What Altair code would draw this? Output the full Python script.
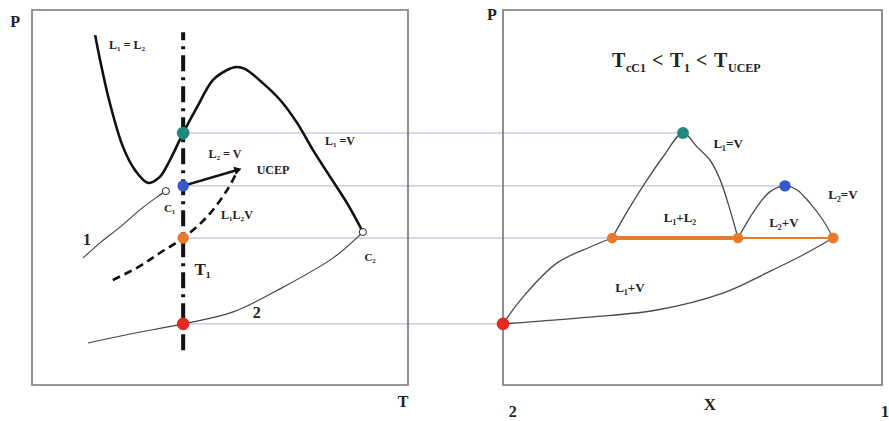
import altair as alt
import pandas as pd

# ---------------- left panel: P-T projection (T and P in 0-100 box units)
T1 = 40.2
P_TEAL, P_BLUE, P_ORANGE, P_RED = 67.2, 53.1, 39.2, 16.3

ll_T = [16.8, 18.1, 20.7, 24.2, 27.4, 30.9, 34.0, 36.7, 40.2, 43.9, 48.1,
        51.9, 54.3, 56.6, 61.4, 66.0, 70.5, 74.7, 79.3, 83.8, 88.0]
ll_P = [93.3, 86.7, 75.2, 63.5, 57.3, 53.9, 55.5, 60.0, 67.2, 74.1, 81.3,
        84.0, 84.8, 84.3, 80.5, 76.0, 69.9, 62.7, 55.5, 48.5, 40.8]

curve1_T = [13.6, 18.1, 23.4, 28.7, 33.2, 35.6]
curve1_P = [33.9, 37.9, 42.1, 46.7, 50.1, 51.7]

curve2_T = [14.9, 26.1, 40.2, 53.5, 66.8, 80.1, 87.2, 88.0]
curve2_P = [11.2, 13.6, 16.3, 19.5, 26.1, 33.9, 40.0, 40.8]

llv_T = [21.5, 28.7, 34.0, 40.2, 46.5, 51.9, 54.8]
llv_P = [28.0, 31.7, 35.2, 39.2, 44.8, 52.0, 57.4]

l2v_T = [40.2, 54.8]
l2v_P = [53.1, 57.4]

C1 = (35.6, 51.7)
C2 = (88.0, 40.8)
UCEP = (54.8, 57.4)
iso_P = [9.3, 94.1]

# ---------------- right panel: P-X section at T1 (X from 0 = pure 2 to 1 = pure 1)
dome1_X = [0.288, 0.335, 0.380, 0.422, 0.475, 0.512, 0.546, 0.573, 0.599, 0.620]
dome1_P = [39.2, 47.5, 54.7, 60.8, 67.2, 63.5, 60.0, 54.7, 46.7, 39.2]
dome2_X = [0.620, 0.670, 0.704, 0.744, 0.776, 0.810, 0.844, 0.871]
dome2_P = [39.2, 47.5, 51.5, 53.1, 52.0, 48.5, 44.0, 39.2]
bubble_X = [0.0, 0.053, 0.142, 0.230, 0.288]
bubble_P = [16.3, 23.5, 32.5, 36.8, 39.2]
dew_X = [0.0, 0.230, 0.406, 0.580, 0.712, 0.790, 0.871]
dew_P = [16.3, 18.1, 20.0, 24.5, 30.7, 34.6, 39.2]
three_X = [0.288, 0.620, 0.871]
X_TEAL, X_BLUE, X_RED = 0.475, 0.744, 0.0

TEAL, BLUE, ORANGE, RED = "#1f8a7b", "#3558cf", "#e97a2c", "#e42a20"

# ---------------- page geometry (pixels per unit, panel origins)
W, H = 889, 421
PX_T, PX_P = 3.76, 3.75
LEFT_PX, BOTTOM_PX = 32, 385
RIGHT_PX, RIGHT_W = 503, 379


def rx(X):
    """Right-panel composition -> shared horizontal units."""
    return (RIGHT_PX - LEFT_PX) / PX_T + X * RIGHT_W / PX_T


xs = alt.Scale(domain=[-LEFT_PX / PX_T, (W - LEFT_PX) / PX_T], nice=False, zero=False)
ys = alt.Scale(domain=[(BOTTOM_PX - H) / PX_P, BOTTOM_PX / PX_P], nice=False, zero=False)
X = lambda: alt.X("x:Q", scale=xs, axis=None)
Y = lambda: alt.Y("y:Q", scale=ys, axis=None)

# polyline table
rows = []


def add(name, xv, yv):
    for i, (a, b) in enumerate(zip(xv, yv)):
        rows.append({"series": name, "order": i, "x": a, "y": b})


add("L1=L2", ll_T, ll_P)
add("L2=V", l2v_T, l2v_P)
add("curve1", curve1_T, curve1_P)
add("curve2", curve2_T, curve2_P)
add("L1L2V", llv_T, llv_P)
add("iso", [T1, T1], iso_P)
add("dome1", [rx(v) for v in dome1_X], dome1_P)
add("dome2", [rx(v) for v in dome2_X], dome2_P)
add("bubble", [rx(v) for v in bubble_X], bubble_P)
add("dew", [rx(v) for v in dew_X], dew_P)
add("tie_thick", [rx(three_X[0]), rx(three_X[1])], [P_ORANGE, P_ORANGE])
add("tie_thin", [rx(three_X[1]), rx(three_X[2])], [P_ORANGE, P_ORANGE])
lines = pd.DataFrame(rows)


def line_layer(names, **kw):
    return alt.Chart(lines).transform_filter(
        alt.FieldOneOfPredicate(field="series", oneOf=names)
    ).mark_line(**kw).encode(x=X(), y=Y(), detail="series:N", order="order:Q")


# frames
boxes = pd.DataFrame({
    "x": [0, rx(0)], "x2": [100, rx(1)], "y": [0, 0], "y2": [100, 100]})
frame = alt.Chart(boxes).mark_rect(fill=None, stroke="#74747e", strokeWidth=1.6).encode(
    x=X(), x2="x2:Q", y=Y(), y2="y2:Q")

# connectors between the two projections
conn = pd.DataFrame({
    "x": [T1] * 4,
    "x2": [rx(X_TEAL), rx(X_BLUE), rx(three_X[0]), rx(X_RED)],
    "y": [P_TEAL, P_BLUE, P_ORANGE, P_RED]})
connectors = alt.Chart(conn).mark_rule(color="#a9b3dc", strokeWidth=1).encode(
    x=X(), x2="x2:Q", y=Y())

SMOOTH = "catmull-rom"
thin_left = line_layer(["curve1", "curve2"], color="#444444", strokeWidth=1.2, interpolate=SMOOTH)
thin_right = line_layer(["dome1", "dome2", "bubble", "dew"], color="#4a4a4a", strokeWidth=1.3,
                        interpolate=SMOOTH)
thick = line_layer(["L1=L2", "L2=V"], color="#111111", strokeWidth=2.6, interpolate=SMOOTH)
dashed = line_layer(["L1L2V"], color="#111111", strokeWidth=2.6, strokeDash=[8, 5],
                    interpolate=SMOOTH)
iso = line_layer(["iso"], color="#111111", strokeWidth=4, strokeDash=[16, 6, 3, 6])
tie1 = line_layer(["tie_thick"], color=ORANGE, strokeWidth=4)
tie2 = line_layer(["tie_thin"], color=ORANGE, strokeWidth=2)

arrow = alt.Chart(pd.DataFrame({"x": [UCEP[0]], "y": [UCEP[1]]})).mark_point(
    shape="triangle-right", filled=True, color="#111111", size=70, angle=343, opacity=1
).encode(x=X(), y=Y())

pts = pd.DataFrame({
    "x": [T1, T1, T1, T1, rx(X_TEAL), rx(X_BLUE), rx(three_X[0]), rx(three_X[1]),
          rx(three_X[2]), rx(X_RED)],
    "y": [P_TEAL, P_BLUE, P_ORANGE, P_RED, P_TEAL, P_BLUE, P_ORANGE, P_ORANGE,
          P_ORANGE, P_RED],
    "col": [TEAL, BLUE, ORANGE, RED, TEAL, BLUE, ORANGE, ORANGE, ORANGE, RED],
    "sz": [160, 130, 130, 160, 140, 130, 110, 110, 120, 160]})
dots = alt.Chart(pts).mark_circle(opacity=1).encode(
    x=X(), y=Y(), color=alt.Color("col:N", scale=None), size=alt.Size("sz:Q", scale=None))

crit = pd.DataFrame({"x": [C1[0], C2[0]], "y": [C1[1], C2[1]]})
open_pts = alt.Chart(crit).mark_point(
    shape="circle", filled=True, fill="white", stroke="#222222", strokeWidth=1, size=50, opacity=1
).encode(x=X(), y=Y())

# labels
lab = pd.DataFrame([
    {"x": -4.5, "y": 96.8, "t": "P", "fs": 16},
    {"x": 98.7, "y": -4.6, "t": "T", "fs": 16},
    {"x": 25.3, "y": 90.7, "t": "L\u2081 = L\u2082", "fs": 12},
    {"x": 81.9, "y": 65.2, "t": "L\u2081 =V", "fs": 12},
    {"x": 51.3, "y": 61.5, "t": "L\u2082 = V", "fs": 12},
    {"x": 64.1, "y": 57.3, "t": "UCEP", "fs": 12},
    {"x": 36.6, "y": 47.0, "t": "C\u2081", "fs": 11},
    {"x": 54.5, "y": 45.3, "t": "L\u2081L\u2082V", "fs": 12},
    {"x": 14.6, "y": 38.7, "t": "1", "fs": 16},
    {"x": 45.4, "y": 30.7, "t": "T\u2081", "fs": 17},
    {"x": 89.9, "y": 33.9, "t": "C\u2082", "fs": 11},
    {"x": 59.8, "y": 19.3, "t": "2", "fs": 16},
    {"x": rx(-0.029), "y": 98.6, "t": "P", "fs": 16},
    {"x": rx(0.594), "y": 64.4, "t": "L\u2081=V", "fs": 13},
    {"x": rx(0.897), "y": 50.7, "t": "L\u2082=V", "fs": 13},
    {"x": rx(0.467), "y": 44.5, "t": "L\u2081+L\u2082", "fs": 13},
    {"x": rx(0.741), "y": 43.2, "t": "L\u2082+V", "fs": 13},
    {"x": rx(0.335), "y": 25.9, "t": "L\u2081+V", "fs": 13},
    {"x": rx(0.026), "y": -7.2, "t": "2", "fs": 16},
    {"x": rx(0.546), "y": -5.4, "t": "X", "fs": 17},
    {"x": rx(1.008), "y": -7.2, "t": "1", "fs": 16},
])
labels = alt.Chart(lab).mark_text(
    font="Liberation Serif", fontWeight="bold", color="#222222", align="center", baseline="middle"
).encode(x=X(), y=Y(), text="t:N", size=alt.Size("fs:Q", scale=None))

# condition line T_cC1 < T_1 < T_UCEP, built from main glyphs and subscripts
title_px = [612, 626, 652, 670, 684, 696, 714, 728]
title_txt = ["T", "cC1", "<", "T", "1", "<", "T", "UCEP"]
title_fs = [20, 12, 20, 20, 12, 20, 20, 12]
title_y = [84.8 if f == 20 else 83.6 for f in title_fs]
ttl = pd.DataFrame({
    "x": [rx((p - RIGHT_PX) / RIGHT_W) for p in title_px],
    "y": title_y, "t": title_txt, "fs": title_fs})
title = alt.Chart(ttl).mark_text(
    font="Liberation Serif", fontWeight="bold", color="#222222", align="left", baseline="alphabetic"
).encode(x=X(), y=Y(), text="t:N", size=alt.Size("fs:Q", scale=None))

chart = alt.layer(
    connectors, frame, thin_left, thin_right, tie1, tie2, thick, dashed, iso,
    arrow, dots, open_pts, labels, title
).properties(
    width=W, height=H, autosize=alt.AutoSizeParams(type="none"), padding=0,
    background="white"
).configure_view(stroke=None)

chart.save("out.html", embed_options={"renderer": "svg", "actions": False})
